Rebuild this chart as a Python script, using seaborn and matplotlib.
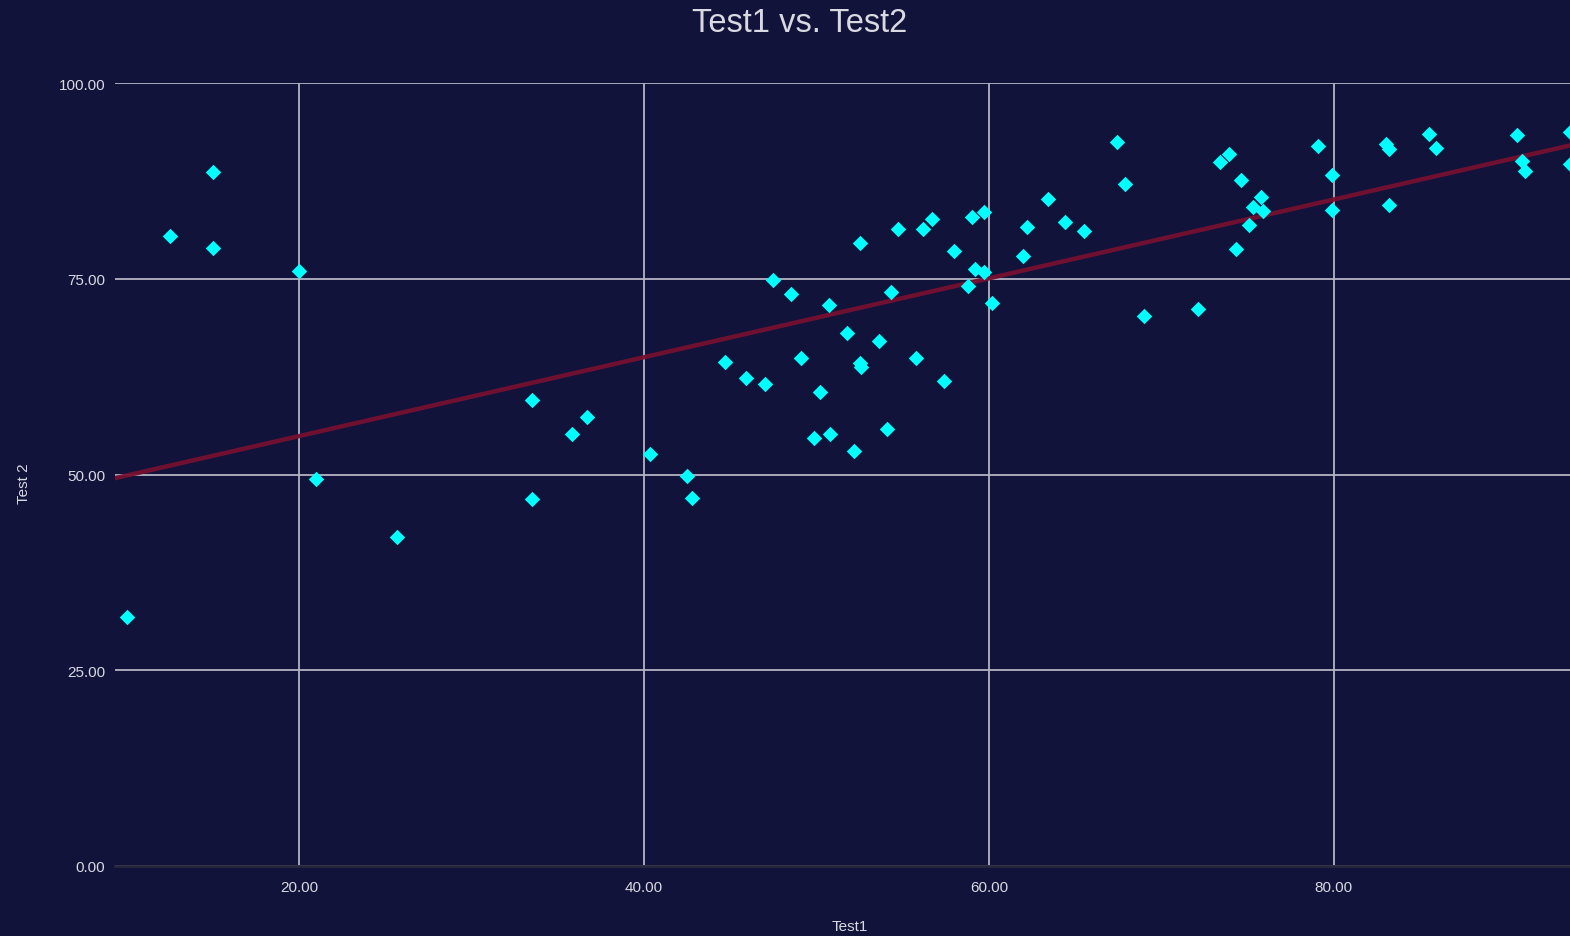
import numpy as np
import pandas as pd
import seaborn as sns
import matplotlib
matplotlib.use('Agg')
import matplotlib.pyplot as plt
from matplotlib.ticker import FormatStrFormatter

# scores
test1 = [10.0, 12.5, 15.0, 15.0, 20.0, 21.0, 25.7, 33.5, 33.5, 35.8,
         36.7, 40.35, 42.5, 42.8, 44.7, 45.9, 47.0, 47.5, 48.5, 49.1,
         49.85, 50.2, 50.7, 50.8, 51.8, 52.2, 52.5, 52.5, 52.6, 53.6,
         54.1, 54.3, 54.7, 55.8, 56.2, 56.7, 57.4, 58.0, 58.8, 59.0,
         59.2, 59.7, 59.7, 60.2, 62.0, 62.2, 63.4, 64.4, 65.5, 67.4,
         67.9, 69.0, 72.1, 73.4, 73.9, 74.6, 74.3, 75.1, 75.3, 75.8,
         75.9, 79.1, 79.9, 79.9, 83.0, 83.2, 83.2, 85.5, 85.9, 90.6,
         90.9, 91.1, 93.7, 93.7]
test2 = [31.8, 80.5, 88.6, 78.9, 76.0, 49.4, 42.0, 59.5, 46.9, 55.2,
         57.3, 52.6, 49.8, 47.0, 64.4, 62.3, 61.6, 74.8, 73.1, 64.9,
         54.6, 60.6, 71.6, 55.2, 68.1, 53.0, 79.6, 64.2, 63.7, 67.1,
         55.8, 73.3, 81.3, 64.9, 81.3, 82.6, 62.0, 78.5, 74.1, 82.9,
         76.3, 75.9, 83.5, 71.9, 77.9, 81.6, 85.2, 82.2, 81.1, 92.5,
         87.1, 70.3, 71.2, 89.9, 90.9, 87.6, 78.8, 81.9, 84.2, 85.4,
         83.6, 92.0, 88.3, 83.8, 92.2, 91.6, 84.4, 93.5, 91.7, 93.3,
         90.0, 88.8, 93.8, 89.7]
x_ticks = [20, 40, 60, 80]
y_ticks = [0, 25, 50, 75, 100]

df = pd.DataFrame({'Test1': test1, 'Test 2': test2})

bg = '#11133a'
txt = '#d9d9e2'

sns.set_theme(style='dark')
plt.rcParams['font.family'] = ['Liberation Sans', 'DejaVu Sans']

fig = plt.figure(figsize=(15.7, 9.37), dpi=100, facecolor=bg)
ax = fig.add_axes([115 / 1570, 70 / 937, 1470 / 1570, 783 / 937])
ax.set_facecolor(bg)
ax.set_xlim(9.33, 94.56)
ax.set_ylim(0, 100)

sns.regplot(data=df, x='Test1', y='Test 2', ax=ax, ci=None, truncate=False,
            marker='D',
            scatter_kws={'s': 62, 'color': '#00ffff', 'alpha': 1, 'linewidths': 0, 'zorder': 3},
            line_kws={'color': '#751030', 'lw': 3.2, 'alpha': 0.95, 'zorder': 2})

ax.set_xticks(x_ticks)
ax.set_yticks(y_ticks)
ax.xaxis.set_major_formatter(FormatStrFormatter('%.2f'))
ax.yaxis.set_major_formatter(FormatStrFormatter('%.2f'))
ax.grid(True, color='#b4b4c4', lw=1.3, zorder=1)
ax.set_axisbelow(True)
for s in ['top', 'right', 'left']:
    ax.spines[s].set_visible(False)
ax.spines['bottom'].set_color('#26263a')
ax.spines['bottom'].set_linewidth(2)
ax.tick_params(axis='both', length=0, labelsize=11, colors=txt)
ax.tick_params(axis='x', pad=10)
ax.tick_params(axis='y', pad=7)

ax.set_xlabel('Test1', fontsize=11, color=txt, labelpad=18)
ax.set_ylabel('Test 2', fontsize=11, color=txt)
ax.yaxis.set_label_coords(-0.057, 0.49)
fig.text(800 / 1570, 1 - 23 / 937, 'Test1 vs. Test2', ha='center', va='center',
         fontsize=23.5, color=txt)

fig.savefig('out.png', dpi=100, facecolor=bg)
